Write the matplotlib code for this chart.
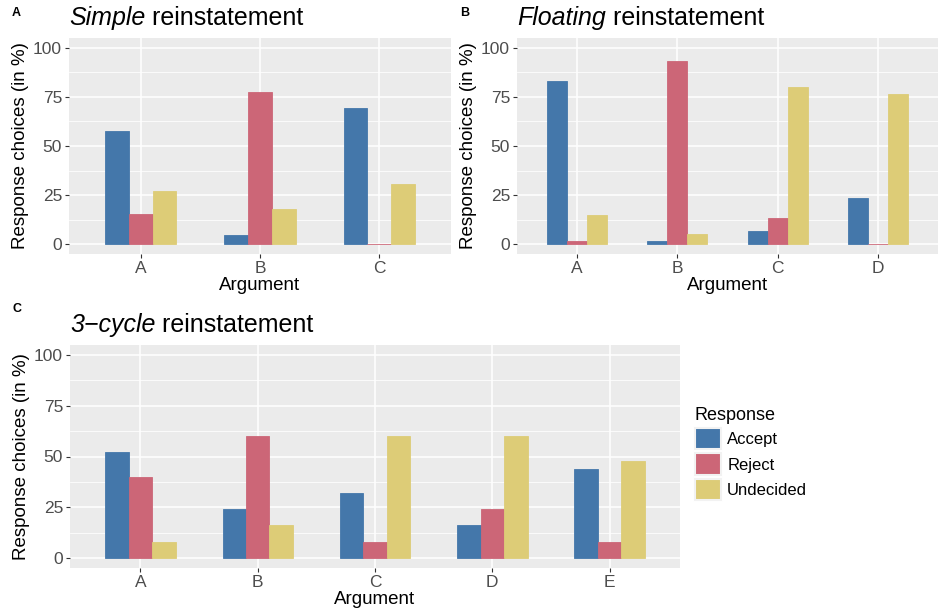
import matplotlib
matplotlib.use("Agg")
import matplotlib.pyplot as plt
import numpy as np
from matplotlib.patches import Patch

plt.rcParams['font.family'] = ['Liberation Sans', 'DejaVu Sans']

responses = ["Accept", "Reject", "Undecided"]
colors = ["#4477AA", "#CC6677", "#DDCC77"]

# Panel A: Simple reinstatement
args_a = ["A", "B", "C"]
accept_a = [57.7, 4.6, 69.2]
reject_a = [15.4, 77.6, 0.0]
undecided_a = [26.9, 17.8, 30.8]

# Panel B: Floating reinstatement
args_b = ["A", "B", "C", "D"]
accept_b = [83.3, 1.7, 6.7, 23.3]
reject_b = [1.7, 93.3, 13.3, 0.0]
undecided_b = [15.0, 5.0, 80.0, 76.7]

# Panel C: 3-cycle reinstatement
args_c = ["A", "B", "C", "D", "E"]
accept_c = [52, 24, 32, 16, 44]
reject_c = [40, 60, 8, 24, 8]
undecided_c = [8, 16, 60, 60, 48]

W, H = 938, 611
fig = plt.figure(figsize=(W / 100, H / 100), dpi=100)


def px_axes(x0, y0, x1, y1):
    return fig.add_axes([x0 / W, 1 - y1 / H, (x1 - x0) / W, (y1 - y0) / H])


def panel(ax, cats, series, title_it, title_rest):
    ax.set_facecolor("#EBEBEB")
    x = np.arange(len(cats))
    bw = 0.2
    for i, (vals, col) in enumerate(zip(series, colors)):
        ax.bar(x + (i - 1) * bw, vals, width=bw, color=col, edgecolor=col,
               linewidth=0.6, zorder=3)
    ax.set_xlim(-0.6, len(cats) - 1 + 0.6)
    ax.set_ylim(-5, 105)
    ax.set_yticks([0, 25, 50, 75, 100])
    ax.set_yticks([12.5, 37.5, 62.5, 87.5], minor=True)
    ax.set_xticks(x)
    ax.set_xticklabels(cats)
    ax.grid(True, which="major", color="white", linewidth=1.1, zorder=1)
    ax.grid(True, which="minor", axis="y", color="white", linewidth=0.55, zorder=1)
    ax.set_axisbelow(True)
    for s in ax.spines.values():
        s.set_visible(False)
    ax.tick_params(axis="both", which="major", length=3, width=0.8, color="#333333",
                   labelsize=12.5, labelcolor="#4D4D4D", pad=2)
    ax.tick_params(axis="y", which="minor", length=0)
    ax.set_xlabel("Argument", fontsize=13.5, labelpad=1)
    ax.set_ylabel("Response choices (in %)", fontsize=13.5, labelpad=3)
    t1 = ax.annotate(title_it, xy=(0, 1), xycoords="axes fraction",
                     xytext=(0, 5.5), textcoords="offset points",
                     fontsize=18, style="italic", ha="left", va="bottom")
    ax.annotate(title_rest, xy=(1, 0), xycoords=t1, fontsize=18,
                ha="left", va="bottom")


axA = px_axes(69, 38, 451, 254)
panel(axA, args_a, [accept_a, reject_a, undecided_a], "Simple", " reinstatement")

axB = px_axes(517, 38, 938, 254)
panel(axB, args_b, [accept_b, reject_b, undecided_b], "Floating", " reinstatement")

axC = px_axes(70, 345, 680, 568)
panel(axC, args_c, [accept_c, reject_c, undecided_c], "3\u2212cycle", " reinstatement")

fig.text(12 / W, 1 - 13 / H, "A", fontsize=9, fontweight="bold", va="center", ha="left")
fig.text(460 / W, 1 - 13 / H, "B", fontsize=9, fontweight="bold", va="center", ha="left")
fig.text(12 / W, 1 - 309 / H, "C", fontsize=9, fontweight="bold", va="center", ha="left")

handles = [Patch(facecolor=c, edgecolor="#F2F2F2", linewidth=1.5) for c in colors]
leg = fig.legend(handles, responses, title="Response", loc="upper left",
                 bbox_to_anchor=(688 / W, 1 - 400 / H), frameon=False,
                 fontsize=12, title_fontsize=13, handlelength=1.6, handleheight=1.6,
                 handletextpad=0.35, labelspacing=0.25, borderaxespad=0)
leg._legend_box.align = "left"

fig.savefig("out.png", dpi=100)
